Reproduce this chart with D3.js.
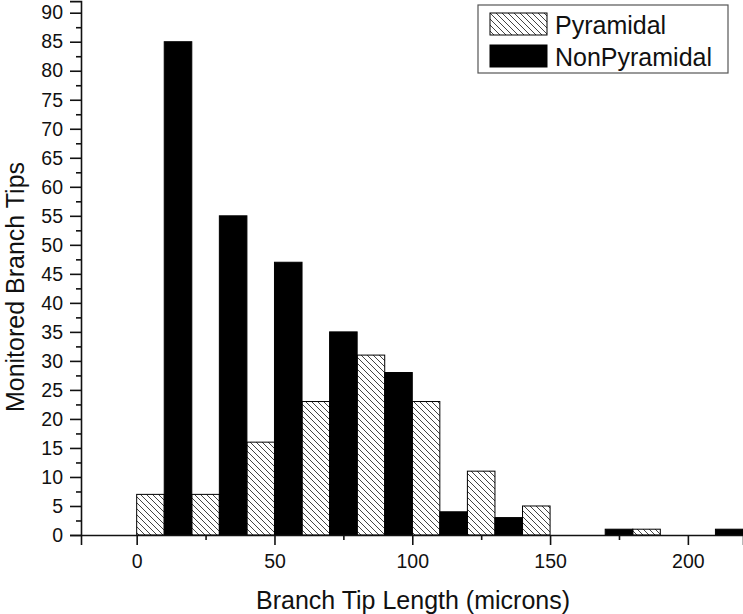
<!DOCTYPE html>
<html>
<head>
<meta charset="utf-8">
<script src="https://cdn.jsdelivr.net/npm/d3@7"></script>
<style>
  body { margin: 0; background: #fff; }
  svg { display: block; font-family: "Liberation Sans", Arial, sans-serif; }
</style>
</head>
<body>
<svg id="chart" width="743" height="614"></svg>
<script>
// bin start (microns), bins are 10 wide
const binStarts = [0, 10, 20, 30, 40, 50, 60, 70, 80, 90, 100, 110, 120, 130, 140, 150, 160, 170, 180, 190, 200, 210];
const pyramidal = [7, 0, 7, 0, 16, 0, 23, 0, 31, 0, 23, 0, 11, 0, 5, 0, 0, 0, 1, 0, 0, 0];
const nonPyramidal = [0, 85, 0, 55, 0, 47, 0, 35, 0, 28, 0, 4, 0, 3, 0, 0, 0, 1, 0, 0, 0, 1];
const seriesNames = ["Pyramidal", "NonPyramidal"];
const xTicks = [0, 50, 100, 150, 200];
const xMinorTicks = [25, 75, 125, 175];
const yTicks = [0, 5, 10, 15, 20, 25, 30, 35, 40, 45, 50, 55, 60, 65, 70, 75, 80, 85, 90];
const yMinorTicks = [2.5, 7.5, 12.5, 17.5, 22.5, 27.5, 32.5, 37.5, 42.5, 47.5, 52.5, 57.5, 62.5, 67.5, 72.5, 77.5, 82.5, 87.5];
const binWidth = 10;

const svg = d3.select("#chart");
const x = d3.scaleLinear().domain([-20.2, 220]).range([81, 743]);
const y = d3.scaleLinear().domain([0, 92]).range([535, 1.1]);

const defs = svg.append("defs");
const pat = defs.append("pattern")
    .attr("id", "hatch")
    .attr("patternUnits", "userSpaceOnUse")
    .attr("width", 6).attr("height", 6);
pat.append("rect").attr("width", 6).attr("height", 6).attr("fill", "#fff");
pat.append("path")
    .attr("d", "M0,0 L6,6 M-1,5 L1,7 M5,-1 L7,1")
    .attr("stroke", "#444").attr("stroke-width", 1).attr("fill", "none");

function bars(values, fill, cls){
  const data = binStarts.map((b, i) => ({ b: b, v: values[i] })).filter(d => d.v > 0);
  svg.append("g").attr("class", cls)
    .selectAll("rect")
    .data(data)
    .enter().append("rect")
      .attr("x", d => x(d.b))
      .attr("y", d => y(d.v))
      .attr("width", d => x(d.b + binWidth) - x(d.b))
      .attr("height", d => y(0) - y(d.v))
      .attr("fill", fill)
      .attr("stroke", "#000").attr("stroke-width", 1);
}
bars(pyramidal, "url(#hatch)", "pyr");
bars(nonPyramidal, "#000", "nonpyr");

// axes
svg.append("g")
    .attr("transform", "translate(" + [x.range()[0], 0] + ")")
    .call(d3.axisLeft(y).tickValues(yTicks).tickSize(11).tickPadding(7));
svg.append("g")
    .attr("transform", "translate(" + [x.range()[0], 0] + ")")
    .call(d3.axisLeft(y).tickValues(yMinorTicks).tickSize(5).tickFormat(""))
    .select(".domain").remove();
svg.append("g")
    .attr("transform", "translate(" + [0, y(0)] + ")")
    .call(d3.axisBottom(x).tickValues(xTicks).tickSize(10).tickPadding(9));
svg.append("g")
    .attr("transform", "translate(" + [0, y(0)] + ")")
    .call(d3.axisBottom(x).tickValues(xMinorTicks).tickSize(5).tickFormat(""))
    .select(".domain").remove();
svg.selectAll(".domain").attr("stroke", "#111").attr("stroke-width", 1.6);
svg.selectAll(".tick line").attr("stroke", "#111").attr("stroke-width", 1.6);
svg.selectAll(".tick text").attr("font-size", 19.5).attr("fill", "#111")
    .attr("font-family", "Liberation Sans, Arial, sans-serif");

// axis titles
svg.append("text")
    .attr("x", 413).attr("y", 609)
    .attr("text-anchor", "middle")
    .attr("font-size", 25).attr("fill", "#111")
    .text("Branch Tip Length (microns)");
svg.append("text")
    .attr("transform", "translate(" + [24, 287] + ") rotate(-90)")
    .attr("text-anchor", "middle")
    .attr("font-size", 25).attr("fill", "#111")
    .text("Monitored Branch Tips");

// legend
const legend = svg.append("g").attr("transform", "translate(478,5)");
legend.append("rect")
    .attr("width", 250).attr("height", 68)
    .attr("fill", "#fff").attr("stroke", "#555").attr("stroke-width", 1.2);
const fills = ["url(#hatch)", "#000"];
seriesNames.forEach(function(name, i){
  const row = legend.append("g").attr("transform", "translate(" + [12, 8 + i * 32] + ")");
  row.append("rect")
      .attr("width", 57).attr("height", 22)
      .attr("fill", fills[i]).attr("stroke", "#000").attr("stroke-width", 1);
  row.append("text")
      .attr("x", 65).attr("y", 20.5)
      .attr("font-size", 25).attr("fill", "#111")
      .text(name);
});
</script>
</body>
</html>
